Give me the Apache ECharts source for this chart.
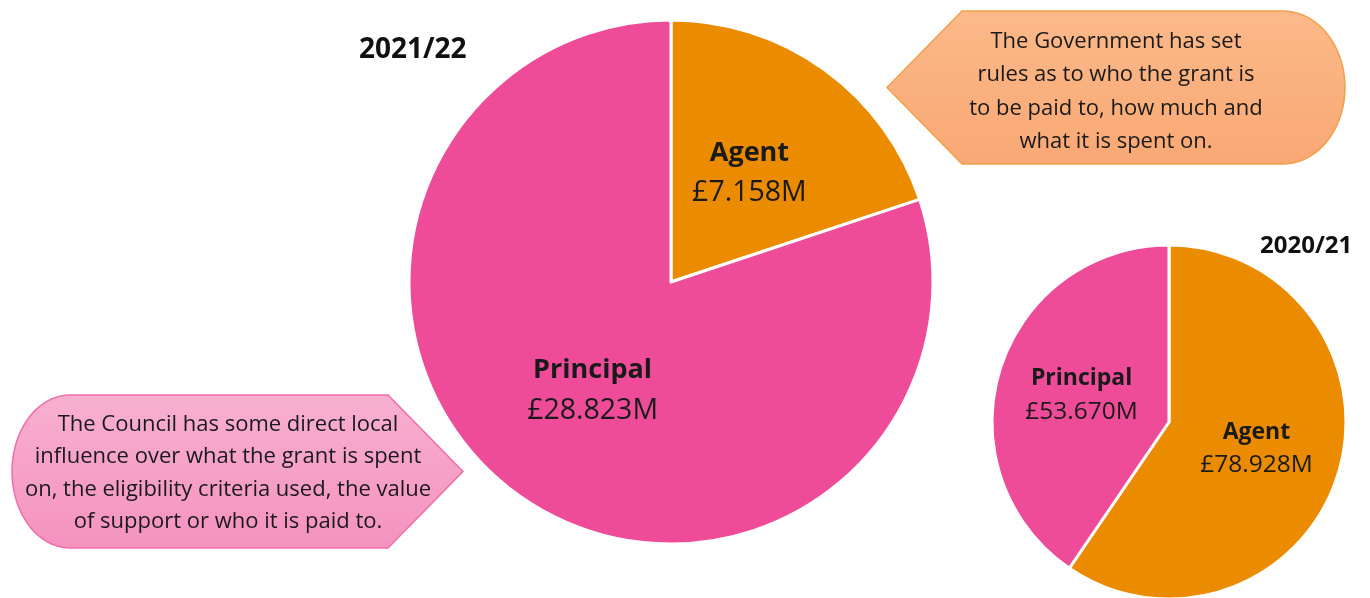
<!DOCTYPE html>
<html>
<head>
<meta charset="utf-8">
<script src="https://cdn.jsdelivr.net/npm/echarts@6/dist/echarts.min.js"></script>
<style>
html,body{margin:0;padding:0;background:#fff;}
#c{width:1370px;height:598px;}
</style>
</head>
<body>
<div id="c"></div>
<script>
var categories = ['Agent', 'Principal'];
var values2122 = [7.158, 28.823];
var values2021 = [78.928, 53.670];
var titles = ['2021/22', '2020/21'];
var govText = ['The Government has set', 'rules as to who the grant is', 'to be paid to, how much and', 'what it is spent on.'];
var councilText = ['The Council has some direct local', 'influence over what the grant is spent', 'on, the eligibility criteria used, the value', 'of support or who it is paid to.'];

var sliceColors = {Agent: '#EB8C00', Principal: '#EE4C98'};
var FONT = '"Open Sans", "Noto Sans", sans-serif';

function buildData(vals) {
  return categories.map(function (c, i) {
    return {name: c, value: vals[i], itemStyle: {color: sliceColors[c]}};
  });
}
function labelFmt(p) {
  return '{n|' + p.name + '}\n{v|£' + p.value.toFixed(3) + 'M}';
}
function makeLabel(nSize, vSize, lh) {
  return {
    show: true, position: 'inside', formatter: labelFmt,
    rich: {
      n: {fontFamily: FONT, fontWeight: 'bold', fontSize: nSize, color: '#1a1a1a', lineHeight: lh, align: 'center'},
      v: {fontFamily: FONT, fontSize: vSize, color: '#1a1a1a', lineHeight: lh, align: 'center'}
    }
  };
}

// callout outlines (decorative shapes)
function govShape() {
  var pts = [[962, 11], [1283, 11]];
  var cx = 1283, cy = 87.5, rx = 62, ry = 76.5;
  for (var i = 1; i < 40; i++) {
    var a = -Math.PI / 2 + Math.PI * i / 40;
    pts.push([cx + rx * Math.cos(a), cy + ry * Math.sin(a)]);
  }
  pts.push([1283, 164], [962, 164], [887, 87.5]);
  return pts;
}
function councilShape() {
  var pts = [[70, 395], [388, 395], [463, 471.5], [388, 548], [70, 548]];
  var cx = 70, cy = 471.5, rx = 58, ry = 76.5;
  for (var i = 1; i < 40; i++) {
    var a = Math.PI / 2 + Math.PI * i / 40;
    pts.push([cx + rx * Math.cos(a), cy + ry * Math.sin(a)]);
  }
  return pts;
}

var chart = echarts.init(document.getElementById('c'));
chart.setOption({
  backgroundColor: '#ffffff',
  animation: false,
  title: [
    {text: titles[0], left: 354, top: 31, textStyle: {fontFamily: FONT, fontWeight: 'bold', fontSize: 28, color: '#111'}},
    {text: titles[1], left: 1255, top: 229, textStyle: {fontFamily: FONT, fontWeight: 'bold', fontSize: 24, color: '#111'}}
  ],
  series: [
    {
      type: 'pie', center: [671, 282], radius: [0, 262], startAngle: 90, clockwise: true,
      data: buildData(values2122),
      itemStyle: {borderColor: '#ffffff', borderWidth: 3},
      label: makeLabel(27, 28.5, 40),
      labelLine: {show: false}, silent: true
    },
    {
      type: 'pie', center: [1169, 422], radius: [0, 177], startAngle: 90, clockwise: true,
      data: buildData(values2021),
      itemStyle: {borderColor: '#ffffff', borderWidth: 3},
      label: makeLabel(23, 24.5, 33),
      labelLine: {show: false}, silent: true
    }
  ],
  graphic: [
    {
      type: 'polygon', shape: {points: govShape()}, z: 1,
      style: {
        fill: {type: 'linear', x: 0, y: 0, x2: 0, y2: 1, colorStops: [{offset: 0, color: '#FBB98A'}, {offset: 1, color: '#F9A874'}]},
        stroke: '#F2A04A', lineWidth: 1.5
      }
    },
    {
      type: 'text', x: 1116, y: 25, z: 2,
      style: {text: govText.join('\n'), fontFamily: FONT, fontSize: 22, lineHeight: 33.3, fill: '#1a1a1a', align: 'center', verticalAlign: 'top'}
    },
    {
      type: 'polygon', shape: {points: councilShape()}, z: 1,
      style: {
        fill: {type: 'linear', x: 0, y: 0, x2: 0, y2: 1, colorStops: [{offset: 0, color: '#F8B0D0'}, {offset: 1, color: '#F492BF'}]},
        stroke: '#EE6EAA', lineWidth: 1.5
      }
    },
    {
      type: 'text', x: 228, y: 408, z: 2,
      style: {text: councilText.join('\n'), fontFamily: FONT, fontSize: 22, lineHeight: 32.5, fill: '#1a1a1a', align: 'center', verticalAlign: 'top'}
    }
  ]
});
</script>
</body>
</html>
